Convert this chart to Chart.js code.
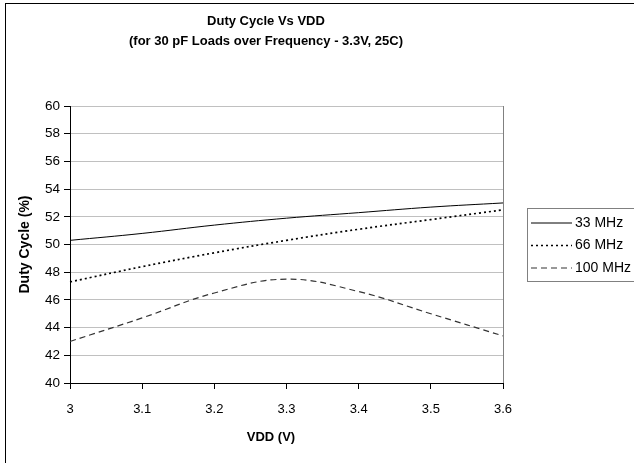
<!DOCTYPE html>
<html>
<head>
<meta charset="utf-8">
<script src="https://cdn.jsdelivr.net/npm/chart.js@4/dist/chart.umd.min.js"></script>
<style>
  html, body { margin: 0; padding: 0; background: #fff; }
  canvas { display: block; }
</style>
</head>
<body>
<canvas id="myChart" width="634" height="463"></canvas>
<script>
const labels = ["3", "3.1", "3.2", "3.3", "3.4", "3.5", "3.6"];

const mhz33 = [50.3, 50.8, 51.4, 51.9, 52.3, 52.7, 53.0];
const mhz66 = [47.3, 48.4, 49.4, 50.3, 51.1, 51.8, 52.5];
const mhz100 = [43.0, 44.7, 46.5, 47.5, 46.6, 45.0, 43.4];

const chartTitle = ["Duty Cycle Vs VDD", "(for 30 pF Loads over Frequency - 3.3V, 25C)"];
const xTitle = "VDD (V)";
const yTitle = "Duty Cycle (%)";

const FONT = "'Liberation Sans', Arial, sans-serif";

const data = {
  labels: labels,
  datasets: [
    {
      label: "33 MHz",
      borderColor: "#000",
      borderWidth: 1,
      data: mhz33,
    },
    {
      label: "66 MHz",
      borderColor: "#000",
      borderWidth: 1.7,
      borderDash: [2, 3],
      data: mhz66,
    },
    {
      label: "100 MHz",
      borderColor: "#333",
      borderWidth: 1.2,
      borderDash: [6, 4],
      data: mhz100,
    }
  ],
};

// frame, title, x title and boxed legend like the excel chart
const decor = {
  id: "decor",
  beforeDraw(chart) {
    const ctx = chart.ctx;
    ctx.save();
    ctx.fillStyle = "#fff";
    ctx.fillRect(0, 0, chart.width, chart.height);
    ctx.strokeStyle = "#000";
    ctx.lineWidth = 1;
    ctx.strokeRect(5.5, 3.5, 700, 500);
    ctx.restore();
  },
  afterDraw(chart) {
    const ctx = chart.ctx;
    ctx.save();
    ctx.fillStyle = "#000";
    ctx.textAlign = "center";
    ctx.textBaseline = "middle";
    ctx.font = "bold 13px " + FONT;
    ctx.fillText(chartTitle[0], 266, 21);
    ctx.fillText(chartTitle[1], 266, 41);
    ctx.font = "bold 13px " + FONT;
    ctx.fillText(xTitle, 271, 437);

    // legend
    ctx.strokeStyle = "#808080";
    ctx.lineWidth = 1;
    ctx.strokeRect(527.5, 208.5, 120, 73);
    ctx.font = "14px " + FONT;
    ctx.textAlign = "left";
    chart.data.datasets.forEach((ds, i) => {
      const y = 223 + i * 22.5;
      ctx.strokeStyle = ds.borderColor;
      ctx.lineWidth = ds.borderWidth;
      ctx.setLineDash(ds.borderDash || []);
      ctx.beginPath();
      ctx.moveTo(531, y);
      ctx.lineTo(572, y);
      ctx.stroke();
      ctx.setLineDash([]);
      ctx.fillStyle = "#000";
      ctx.fillText(ds.label, 575, y);
    });
    ctx.restore();
  }
};

const config = {
  type: "line",
  data: data,
  options: {
    responsive: false,
    animation: false,
    devicePixelRatio: 1,
    layout: { padding: { left: 5, top: 106, right: 131, bottom: 0 } },
    elements: {
      point: { radius: 0 },
      line: { tension: 0.4, fill: false }
    },
    plugins: {
      legend: { display: false },
      tooltip: { enabled: false }
    },
    scales: {
      x: {
        offset: false,
        afterFit(scale) { scale.height = 80; },
        grid: {
          color: (c) => c.index === labels.length - 1 ? "#808080" : "rgba(0,0,0,0)",
          tickColor: "#000",
          tickLength: 6,
        },
        border: { color: "#000", width: 1 },
        ticks: {
          color: "#000",
          font: { family: FONT, size: 13 },
          padding: 13,
          maxRotation: 0,
          autoSkip: false
        }
      },
      y: {
        min: 40,
        max: 60,
        afterFit(scale) { scale.width = 65; },
        grid: {
          color: "#c0c0c0",
          tickColor: "#000",
          tickLength: 6,
        },
        border: { color: "#000", width: 1 },
        ticks: {
          stepSize: 2,
          color: "#000",
          font: { family: FONT, size: 13.5 },
          padding: 4
        },
        title: {
          display: true,
          text: yTitle,
          color: "#000",
          font: { family: FONT, size: 14, weight: "bold" },
          padding: { top: 12, bottom: 0 }
        }
      }
    }
  },
  plugins: [decor]
};

const myChart = new Chart(document.getElementById("myChart"), config);
</script>
</body>
</html>
